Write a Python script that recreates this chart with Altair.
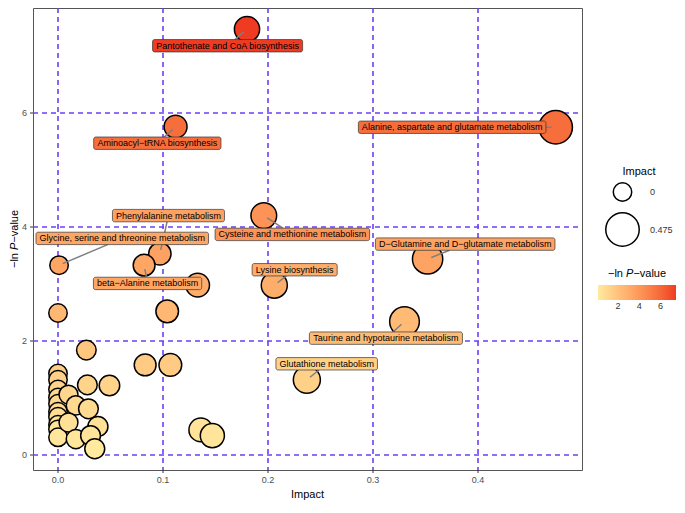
import math
import altair as alt
import pandas as pd

# ---------------- data ----------------
label_names = [
    "Pantothenate and CoA biosynthesis",
    "Aminoacyl\u2212tRNA biosynthesis",
    "Alanine, aspartate and glutamate metabolism",
    "Cysteine and methionine metabolism",
    "D\u2212Glutamine and D\u2212glutamate metabolism",
    "Phenylalanine metabolism",
    "beta\u2212Alanine metabolism",
    "Glycine, serine and threonine metabolism",
    "Lysine biosynthesis",
    "Taurine and hypotaurine metabolism",
    "Glutathione metabolism",
]
label_impact = [0.180, 0.112, 0.474, 0.196, 0.352, 0.097, 0.082, 0.001, 0.206, 0.330, 0.237]
label_nlp = [7.47, 5.76, 5.75, 4.20, 3.44, 3.53, 3.33, 3.33, 2.98, 2.34, 1.32]

other_impact = [0.133, 0.104, 0.000, 0.027, 0.083, 0.107, 0.136, 0.147, 0.028, 0.049,
                0.000, 0.000, 0.000, 0.000, 0.000, 0.000, 0.000, 0.000, 0.000, 0.000,
                0.010, 0.017, 0.029, 0.010, 0.038, 0.017, 0.031, 0.035]
other_nlp = [2.98, 2.52, 2.49, 1.84, 1.58, 1.58, 0.44, 0.34, 1.23, 1.22,
             1.43, 1.32, 1.15, 1.01, 0.90, 0.76, 0.67, 0.53, 0.45, 0.31,
             1.06, 0.87, 0.81, 0.57, 0.50, 0.28, 0.34, 0.11]

# label box centres (annotation anchors, data units)
label_cx = [0.1615, 0.0946, 0.3754, 0.2232, 0.3878, 0.1052, 0.0853, 0.0612, 0.2254, 0.3123, 0.2559]
label_cy = [7.18, 5.47, 5.75, 3.87, 3.70, 4.20, 3.01, 3.80, 3.25, 2.05, 1.60]

x_ticks = [0.0, 0.1, 0.2, 0.3, 0.4]
y_ticks = [0, 2, 4, 6]
size_legend_values = [0, 0.475]
color_legend_values = [2, 4, 6]

# ---------------- layout ----------------
W, H = 549, 462
KX, KY = 1050.0, 57.0          # pixels per data unit
XMIN = -25 / KX
XMAX = XMIN + W / KX
YMAX = 6 + 105 / KY
YMIN = YMAX - H / KY
FS = 9

CW = {' ': 278, ',': 278, '-': 333, '\u2212': 584, '.': 278}
for c, w in zip("abcdefghijklmnopqrstuvwxyz",
                [556, 556, 500, 556, 556, 278, 556, 556, 222, 222, 500, 222, 833,
                 556, 556, 556, 556, 333, 500, 278, 556, 500, 722, 500, 500, 500]):
    CW[c] = w
for c, w in zip("ABCDEFGHIJKLMNOPQRSTUVWXYZ",
                [667, 667, 722, 722, 667, 611, 778, 722, 278, 500, 667, 556, 833,
                 722, 778, 667, 778, 722, 667, 611, 722, 667, 944, 667, 667, 611]):
    CW[c] = w


def text_width(s, fs):
    return sum(CW.get(ch, 556) for ch in s) * fs / 1000.0


def to_px(x, y):
    return ((x - XMIN) / (XMAX - XMIN) * W, (YMAX - y) / (YMAX - YMIN) * H)


def to_data(px, py):
    return (XMIN + px / W * (XMAX - XMIN), YMAX - py / H * (YMAX - YMIN))


points = pd.DataFrame({
    "impact": label_impact + other_impact,
    "nlp": label_nlp + other_nlp,
})

box_rows, seg_rows = [], []
for name, ix, iy, lx, ly in zip(label_names, label_impact, label_nlp, label_cx, label_cy):
    cx, cy = to_px(lx, ly)
    hw = text_width(name, FS) / 2 + 3.5
    hh = 6.2
    x1, y1 = to_data(cx - hw, cy + hh)
    x2, y2 = to_data(cx + hw, cy - hh)
    box_rows.append({"name": name, "nlp": iy, "x1": x1, "x2": x2, "y1": y1, "y2": y2,
                     "cx": lx, "cy": ly})
    px, py = to_px(ix, iy)
    dx, dy = px - cx, py - cy
    if abs(dx) <= hw and abs(dy) <= hh:
        continue
    t = min(hw / abs(dx) if dx else 1e9, hh / abs(dy) if dy else 1e9)
    ex, ey = cx + dx * t, cy + dy * t
    L = math.hypot(dx, dy)
    sx, sy = px - dx / L * 4, py - dy / L * 4
    if math.hypot(ex - sx, ey - sy) < 2:
        continue
    a, b = to_data(sx, sy)
    c, d = to_data(ex, ey)
    seg_rows.append({"sx": a, "sy": b, "ex": c, "ey": d})

boxes = pd.DataFrame(box_rows)
segs = pd.DataFrame(seg_rows)

xscale = alt.Scale(domain=[XMIN, XMAX], nice=False, zero=False)
yscale = alt.Scale(domain=[YMIN, YMAX], nice=False, zero=False)
cscale = alt.Scale(domain=[min(points["nlp"]), max(points["nlp"])],
                   range=["#FFEA9E", "#EF3B22"], interpolate="lab", zero=False)
sscale = alt.Scale(domain=[0, 0.475], range=[340, 1120], zero=False)

xaxis = alt.Axis(values=x_ticks, format=".1f", title="Impact", labelPadding=3, titlePadding=4)
yaxis = alt.Axis(values=y_ticks, title=None, labelPadding=3)

pts = alt.Chart(points).mark_circle(opacity=1, stroke="black", strokeWidth=1.5).encode(
    x=alt.X("impact:Q", scale=xscale, axis=xaxis),
    y=alt.Y("nlp:Q", scale=yscale, axis=yaxis),
    size=alt.Size("impact:Q", scale=sscale,
                  legend=alt.Legend(title="Impact", orient="none", legendX=572, legendY=158,
                                    values=size_legend_values, format=".3~g",
                                    symbolFillColor="white",
                                    symbolStrokeColor="black", symbolStrokeWidth=1.5,
                                    symbolType="circle", labelOffset=10, rowPadding=4,
                                    titleAnchor="middle", padding=0)),
    color=alt.Color("nlp:Q", scale=cscale,
                    legend=alt.Legend(title=None, orient="none", legendX=565, legendY=277,
                                      direction="horizontal", gradientLength=78,
                                      gradientThickness=15, values=color_legend_values,
                                      padding=0, gradientStrokeWidth=0)),
)

seg = alt.Chart(segs).mark_rule(color="#7f7f7f", strokeWidth=1.5).encode(
    x=alt.X("sx:Q", scale=xscale, axis=xaxis),
    y=alt.Y("sy:Q", scale=yscale, axis=yaxis),
    x2="ex:Q", y2="ey:Q",
)

rects = alt.Chart(boxes).mark_rect(cornerRadius=2, stroke="#333333", strokeWidth=0.7).encode(
    x=alt.X("x1:Q", scale=xscale, axis=xaxis),
    x2="x2:Q",
    y=alt.Y("y1:Q", scale=yscale, axis=yaxis),
    y2="y2:Q",
    color=alt.Color("nlp:Q", scale=cscale, legend=None),
)

texts = alt.Chart(boxes).mark_text(fontSize=FS, font="Liberation Sans", color="black",
                                   baseline="middle", align="center").encode(
    x=alt.X("cx:Q", scale=xscale, axis=xaxis),
    y=alt.Y("cy:Q", scale=yscale, axis=yaxis),
    text="name:N",
)

one = pd.DataFrame({"k": [0]})


def piece(txt, x, y, angle=0, italic=False, size=11):
    kw = dict(text=txt, fontSize=size, font="Liberation Sans", color="black",
              align="left", baseline="middle")
    if angle:
        kw["angle"] = angle
    if italic:
        kw["fontStyle"] = "italic"
    return alt.Chart(one).mark_text(**kw).encode(x=alt.value(x), y=alt.value(y))


yc = H / 2
w1 = text_width("\u2212ln ", 11)
w2 = 667 * 11 / 1000.0
ytitle = [
    piece("\u2212ln ", -18, yc + 29, angle=270),
    piece("P", -18, yc + 29 - w1, angle=270, italic=True),
    piece("\u2212value", -18, yc + 29 - w1 - w2, angle=270),
]
lx0 = 575
ly0 = 266
ctitle = [
    piece("\u2212ln ", lx0, ly0),
    piece("P", lx0 + w1, ly0, italic=True),
    piece("\u2212value", lx0 + w1 + w2, ly0),
]

chart = alt.layer(pts, seg, rects, texts, *ytitle, *ctitle).properties(
    width=W, height=H, padding=0
).configure_view(
    stroke="#555555", strokeWidth=1
).configure_axis(
    gridColor="#6C40F6", gridDash=[5, 4], gridWidth=1.6, domain=False, translate=0,
    tickColor="#333333", tickSize=3, labelFont="Liberation Sans", labelFontSize=9,
    labelColor="#4d4d4d", titleFont="Liberation Sans", titleFontSize=11,
    titleFontWeight="normal", titleColor="black"
).configure_legend(
    labelFont="Liberation Sans", labelFontSize=9, labelColor="#333333",
    titleFont="Liberation Sans", titleFontSize=11, titleFontWeight="normal",
    titleColor="black"
)

chart.save("out.html", embed_options={"renderer": "svg", "actions": False})
